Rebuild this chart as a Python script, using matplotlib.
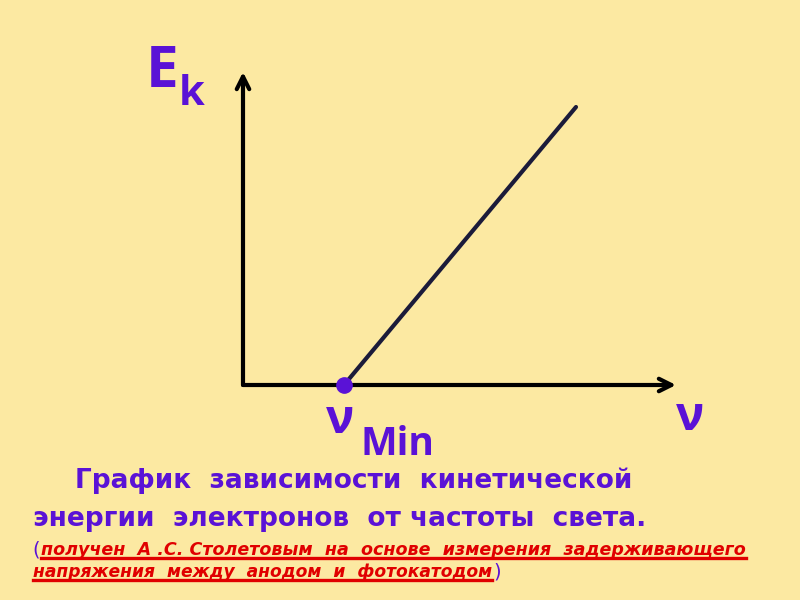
import matplotlib.pyplot as plt

# data: kinetic energy vs light frequency (arbitrary units)
nu_line = [1.01, 3.33]
ek_line = [0.0, 2.78]
nu_min = 1.01
x_max, y_max = 4.33, 3.13

caption_1 = 'График  зависимости  кинетической'
caption_2 = 'энергии  электронов  от частоты  света.'
note_1 = 'получен  А .С. Столетовым  на  основе  измерения  задерживающего'
note_2 = 'напряжения  между  анодом  и  фотокатодом'

bg = '#fce9a2'
purple = '#5a12d6'
red = '#e00000'
sans = ['DejaVu Sans']

fig = plt.figure(figsize=(8, 6), dpi=100, facecolor=bg)
ax = fig.add_axes([243/800, 1 - 385/600, 433/800, 313/600])
ax.set_facecolor('none')
ax.set_xlim(0, x_max)
ax.set_ylim(0, y_max)
for s in ax.spines.values():
    s.set_visible(False)
ax.set_xticks([])
ax.set_yticks([])

# axes arrows
arrow = dict(arrowstyle='->,head_length=0.9,head_width=0.45', lw=3, color='black',
             shrinkA=0, shrinkB=0)
ax.annotate('', xy=(1, 0), xytext=(0, 0), xycoords='axes fraction', arrowprops=arrow,
            annotation_clip=False)
ax.annotate('', xy=(0, 1), xytext=(0, 0), xycoords='axes fraction', arrowprops=arrow,
            annotation_clip=False)

ax.plot(nu_line, ek_line, color='#1b1b3a', lw=3, solid_capstyle='round', clip_on=False)
ax.plot([nu_min], [0], 'o', color=purple, ms=11, clip_on=False, zorder=5)


def px(x, y):
    return x / 800, 1 - y / 600


# axis labels
fig.text(*px(146, 87), 'E', color=purple, fontsize=42, fontweight='bold', family='Open Sans')
fig.text(*px(179, 105), 'k', color=purple, fontsize=30, fontweight='bold', family='Open Sans')
fig.text(*px(326, 433), 'ν', color=purple, fontsize=34, fontweight='bold', family='Open Sans')
fig.text(*px(361, 455), 'Min', color=purple, fontsize=28, fontweight='bold', family='Open Sans')
fig.text(*px(676, 430), 'ν', color=purple, fontsize=34, fontweight='bold', family='Open Sans')

renderer = fig.canvas.get_renderer()


def fit_line(text, x0, x1, y, **kw):
    # draw one line of text and size it so it spans x0..x1 pixels
    t = fig.text(*px(x0, y), text, fontsize=18, **kw)
    bb = t.get_window_extent(renderer)
    t.set_fontsize(18 * (x1 - x0) / bb.width)
    bb = t.get_window_extent(renderer)
    t.set_x((2 * x0 - bb.x0) / 800)
    return t.get_window_extent(renderer)


fit_line(caption_1, 75, 635, 488, color=purple, fontweight='bold', family=sans)
fit_line(caption_2, 33, 648, 526, color=purple, fontweight='bold', family=sans)

note_kw = dict(color=red, style='italic', fontweight='bold', family=sans)
fig.text(*px(32, 555), '(', color=purple, fontsize=14, family=sans)
bb = fit_line(note_1, 41, 745, 555, **note_kw)
fig.add_artist(plt.Line2D([bb.x0/800, bb.x1/800], [(600 - 558)/600] * 2, color=red, lw=2.4))
bb = fit_line(note_2, 33, 492, 577, **note_kw)
fig.add_artist(plt.Line2D([bb.x0/800, bb.x1/800], [(600 - 580)/600] * 2, color=red, lw=2.4))
fig.text(bb.x1/800 + 0.002, 1 - 577/600, ')', color=purple, fontsize=14, family=sans)

fig.savefig('out.png', dpi=100, facecolor=bg)
